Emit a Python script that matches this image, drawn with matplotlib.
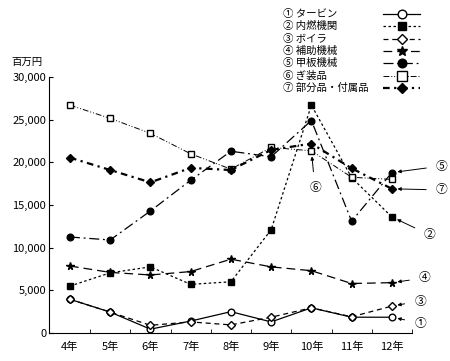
import matplotlib
matplotlib.use("Agg")
import matplotlib.pyplot as plt
from matplotlib.lines import Line2D
from matplotlib.ticker import FuncFormatter, FixedLocator

plt.rcParams['font.family'] = ['Noto Sans CJK JP', 'DejaVu Sans']

years = [4, 5, 6, 7, 8, 9, 10, 11, 12]
year_labels = ['4年', '5年', '6年', '7年', '8年', '9年', '10年', '11年', '12年']

# 百万円
turbine = [3950, 2450, 450, 1400, 2500, 1300, 2950, 1850, 1850]
engine = [5500, 7050, 7750, 5700, 6000, 12100, 26700, 18200, 13600]
boiler = [3950, 2450, 900, 1300, 950, 1850, 2950, 1900, 3150]
aux = [7850, 7100, 6800, 7200, 8650, 7750, 7300, 5800, 5900]
deck = [11250, 10900, 14300, 17900, 21300, 20650, 24900, 13100, 18800]
outfit = [26700, 25150, 23400, 21000, 19200, 21750, 21350, 18250, 18000]
parts = [20550, 19100, 17650, 19350, 19100, 21450, 22200, 19300, 16900]

names = ['① タービン', '② 内燃機関', '③ ボイラ', '④ 補助機械',
         '⑤ 甲板機械', '⑥ ぎ装品', '⑦ 部分品・付属品']

k = 'black'
styles = [
    dict(ls='-', lw=0.9, marker='o', mfc='white', ms=4.8),
    dict(dashes=(2, 2), lw=0.9, marker='s', mfc=k, ms=4.8),
    dict(dashes=(4, 3), lw=0.9, marker='D', mfc='white', ms=3.6),
    dict(dashes=(7, 4), lw=0.9, marker='*', mfc=k, ms=5.5),
    dict(dashes=(8, 3, 1.5, 3), lw=0.9, marker='o', mfc=k, ms=4.8),
    dict(dashes=(6, 2, 1, 2, 1, 2), lw=0.7, marker='s', mfc='white', ms=5),
    dict(dashes=(3, 2, 1, 2), lw=1.6, marker='D', mfc=k, ms=4),
]
series = [turbine, engine, boiler, aux, deck, outfit, parts]

fig = plt.figure(figsize=(4.5, 3.61), dpi=100)
ax = fig.add_axes([49/450, 1-333/361, (412-49)/450, (333-77)/361])

for vals, st in zip(series, styles):
    ax.plot(years, vals, color=k, mec=k, **st)

ax.set_xlim(3.48, 12.5)
ax.set_ylim(0, 30000)
ax.spines['top'].set_visible(False)
ax.spines['right'].set_visible(False)

ax.set_xticks(years)
ax.set_xticklabels(year_labels)
ax.xaxis.set_minor_locator(FixedLocator([4.5, 5.5, 6.5, 7.5, 8.5, 9.5, 10.5, 11.5, 12.5]))
ax.tick_params(axis='x', which='major', length=0, pad=6, labelsize=8)
ax.tick_params(axis='x', which='minor', length=3, direction='in')
ax.set_yticks(range(0, 30001, 5000))
ax.yaxis.set_major_formatter(FuncFormatter(lambda v, p: f'{int(v):,}'))
ax.tick_params(axis='y', length=3, direction='in', labelsize=8, pad=2)

fig.text(27/450, 1-62/361, '百万円', ha='center', va='center', fontsize=7.5)

# legend drawn by hand: text on the left, sample line on the right
W, H = 450, 361
for i, (name, st) in enumerate(zip(names, styles)):
    yp = 14 + 12.3 * i
    fig.text(283/W, 1-yp/H, name, ha='left', va='center', fontsize=7.5)
    st2 = dict(st)
    st2['ms'] = st['ms'] * 1.3
    fig.add_artist(Line2D([383/W, 401.5/W, 420/W], [1-yp/H]*3, color=k, mec=k,
                          markevery=[1], transform=fig.transFigure, **st2))

# callouts on the right
callouts = [
    ('⑤', (13.24, 19570), (12, 18800)),
    ('⑦', (13.24, 16760), (12, 16900)),
    ('②', (12.94, 11490), (12, 13600)),
    ('④', (12.82, 6450), (12, 5900)),
    ('③', (12.70, 3750), (12, 3150)),
    ('①', (12.70, 1170), (12, 1850)),
    ('⑥', (10.09, 17000), (10, 21350)),
]
for lab, txt, pt in callouts:
    ax.annotate(lab, xy=pt, xytext=txt, ha='center', va='center', fontsize=8.5,
                annotation_clip=False,
                arrowprops=dict(arrowstyle='-|>', color=k, lw=0.7,
                                mutation_scale=5, shrinkA=5, shrinkB=4))

fig.savefig('out.png', dpi=100)
